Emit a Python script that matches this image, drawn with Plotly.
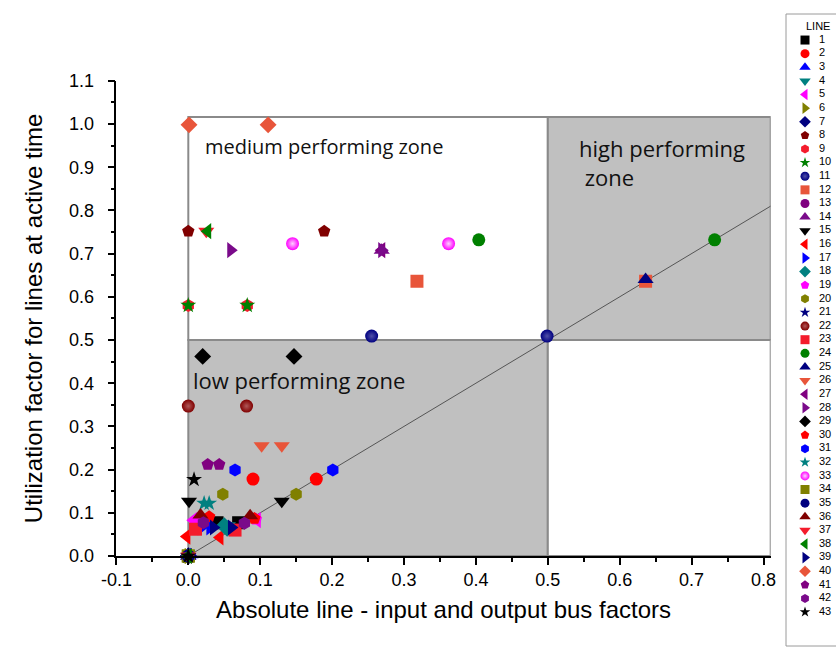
import plotly.graph_objects as go

# ---------------- data ----------------
line_labels = [str(i) for i in range(1, 44)]

x_vals = [
    [0.040, 0.070],   # 1
    [0.090, 0.178],   # 2
    [0.000, 0.003],   # 3
    [0.055, 0.060],   # 4
    [0.007, 0.096],   # 5
    [0.000, 0.000],   # 6
    [0.000, 0.000],   # 7
    [0.000, 0.189],   # 8
    [0.000, 0.082],   # 9
    [0.000, 0.082],   # 10
    [0.255, 0.499],   # 11
    [0.318, 0.636],   # 12
    [0.000, 0.000],   # 13
    [0.269, 0.000],   # 14
    [0.001, 0.130],   # 15
    [-0.002, 0.044],  # 16
    [0.018, 0.030],   # 17
    [0.050, 0.054],   # 18
    [0.012, 0.094],   # 19
    [0.048, 0.150],   # 20
    [0.000, 0.000],   # 21
    [0.000, 0.081],   # 22
    [0.010, 0.065],   # 23
    [0.404, 0.732],   # 24
    [0.636, 0.000],   # 25
    [0.102, 0.130],   # 26
    [0.269, 0.000],   # 27
    [0.059, 0.269],   # 28
    [0.020, 0.147],   # 29
    [0.029, 0.092],   # 30
    [0.065, 0.201],   # 31
    [0.022, 0.029],   # 32
    [0.145, 0.362],   # 33
    [0.000, 0.000],   # 34
    [0.000, 0.000],   # 35
    [0.017, 0.086],   # 36
    [0.025, 0.000],   # 37
    [0.027, 0.000],   # 38
    [0.035, 0.060],   # 39
    [0.001, 0.111],   # 40
    [0.027, 0.043],   # 41
    [0.021, 0.078],   # 42
    [0.008, 0.000],   # 43
]

y_vals = [
    [0.077, 0.077],   # 1
    [0.178, 0.178],   # 2
    [0.000, 0.003],   # 3
    [0.070, 0.066],   # 4
    [0.083, 0.083],   # 5
    [0.000, 0.000],   # 6
    [0.000, 0.000],   # 7
    [0.752, 0.752],   # 8
    [0.580, 0.580],   # 9
    [0.580, 0.580],   # 10
    [0.509, 0.509],   # 11
    [0.636, 0.636],   # 12
    [0.000, 0.000],   # 13
    [0.708, 0.000],   # 14
    [0.127, 0.127],   # 15
    [0.045, 0.043],   # 16
    [0.066, 0.066],   # 17
    [0.070, 0.064],   # 18
    [0.085, 0.085],   # 19
    [0.143, 0.143],   # 20
    [0.000, 0.000],   # 21
    [0.347, 0.347],   # 22
    [0.062, 0.060],   # 23
    [0.732, 0.732],   # 24
    [0.640, 0.000],   # 25
    [0.255, 0.255],   # 26
    [0.708, 0.000],   # 27
    [0.708, 0.708],   # 28
    [0.462, 0.462],   # 29
    [0.091, 0.087],   # 30
    [0.199, 0.199],   # 31
    [0.122, 0.122],   # 32
    [0.723, 0.723],   # 33
    [0.000, 0.000],   # 34
    [0.000, 0.000],   # 35
    [0.095, 0.093],   # 36
    [0.752, 0.000],   # 37
    [0.752, 0.000],   # 38
    [0.066, 0.066],   # 39
    [0.998, 0.998],   # 40
    [0.212, 0.212],   # 41
    [0.077, 0.076],   # 42
    [0.177, 0.000],   # 43
]

x_ticks = [-0.1, 0.0, 0.1, 0.2, 0.3, 0.4, 0.5, 0.6, 0.7, 0.8]
y_ticks = [0.0, 0.1, 0.2, 0.3, 0.4, 0.5, 0.6, 0.7, 0.8, 0.9, 1.0, 1.1]

zone_split_x = 0.5
zone_split_y = 0.5
x_max = 0.81
y_zone_top = 1.016

# ---------------- styles ----------------
color_cycle = ["#000000", "#ff0000", "#0000ff", "#008080", "#ff00ff", "#808000",
               "#000080", "#800000", "#f41c2c", "#008000", "#000080", "#e8553a",
               "#800080", "#7a0a8a"]
symbol_cycle = ["square", "circle", "triangle-up", "triangle-down", "triangle-left",
                "triangle-right", "diamond", "pentagon", "hexagon", "star", "ball"]
ball_highlight = {"#ff00ff": "#ffd0ff", "#000080": "#5050a8", "#800000": "#b05858"}

W, H = 836, 649
px_left, px_right, px_top, px_bottom = 116.4, 770.7, 80.8, 556.0

fig = go.Figure()


def marker_for(i, size):
    sym = symbol_cycle[i % len(symbol_cycle)]
    col = color_cycle[i % len(color_cycle)]
    m = dict(color=col, size=size, line=dict(width=0))
    if sym == "ball":
        m["symbol"] = "circle"
        m["gradient"] = dict(type="radial", color=ball_highlight.get(col, "#cccccc"))
    else:
        m["symbol"] = sym
        if sym.startswith("triangle"):
            m["size"] = size + 1
        if sym == "star":
            m["size"] = size - 1
    return m


for i, lab in enumerate(line_labels):
    fig.add_trace(go.Scatter(
        x=x_vals[i], y=y_vals[i], mode="markers",
        marker=marker_for(i, 13), name=lab, showlegend=False,
        cliponaxis=False, xaxis="x", yaxis="y",
        hovertemplate="LINE " + lab + "<br>x=%{x}<br>y=%{y}<extra></extra>"))

# custom legend (drawn on a hidden axis pair)
for i, lab in enumerate(line_labels):
    fig.add_trace(go.Scatter(
        x=[0.38], y=[i + 1], mode="markers", marker=marker_for(i, 9),
        showlegend=False, hoverinfo="skip", xaxis="x2", yaxis="y2", cliponaxis=False))
fig.add_trace(go.Scatter(
    x=[0.66] * len(line_labels), y=list(range(1, len(line_labels) + 1)),
    mode="text", text=line_labels, textposition="middle right",
    textfont=dict(family="Liberation Sans, Arial", size=11, color="#000"),
    showlegend=False, hoverinfo="skip", xaxis="x2", yaxis="y2", cliponaxis=False))

zone_line = dict(color="#8a8a8a", width=2)
shapes = [
    dict(type="rect", xref="x", yref="y", x0=0, x1=zone_split_x, y0=zone_split_y, y1=y_zone_top,
         fillcolor="white", line=zone_line, layer="below"),
    dict(type="rect", xref="x", yref="y", x0=zone_split_x, x1=x_max, y0=zone_split_y, y1=y_zone_top,
         fillcolor="#c0c0c0", line=zone_line, layer="below"),
    dict(type="rect", xref="x", yref="y", x0=0, x1=zone_split_x, y0=0, y1=zone_split_y,
         fillcolor="#c0c0c0", line=zone_line, layer="below"),
    dict(type="rect", xref="x", yref="y", x0=zone_split_x, x1=x_max, y0=0, y1=zone_split_y,
         fillcolor="white", line=zone_line, layer="below"),
    dict(type="line", xref="x", yref="y", x0=0, y0=0, x1=x_max, y1=x_max,
         line=dict(color="#555555", width=1), layer="below"),
    # legend frame
    dict(type="rect", xref="paper", yref="paper", x0=786 / W, x1=1.05, y0=1 - 646 / H, y1=1 - 14 / H,
         fillcolor="rgba(0,0,0,0)", line=dict(color="#9a9a9a", width=1)),
]

zone_font_m = dict(family="Open Sans, Noto Sans", size=20, color="#111")
zone_font_l = dict(family="Open Sans, Noto Sans", size=22, color="#111")
annotations = [
    dict(text="medium performing zone", xref="x", yref="y", x=0.02, y=0.947,
         xanchor="left", yanchor="middle", showarrow=False, font=zone_font_m),
    dict(text="high performing<br> zone", xref="x", yref="y", x=0.54, y=0.912,
         xanchor="left", yanchor="middle", showarrow=False, font=zone_font_l, align="left"),
    dict(text="low performing zone", xref="x", yref="y", x=0.004, y=0.408,
         xanchor="left", yanchor="middle", showarrow=False, font=zone_font_l),
    dict(text="LINE", xref="paper", yref="paper", x=818 / W, y=1 - 26 / H,
         xanchor="center", yanchor="middle", showarrow=False,
         font=dict(family="Liberation Sans, Arial", size=11, color="#000")),
]

axis_font = dict(family="Liberation Sans, Arial", size=18, color="#000")
title_font = dict(family="Liberation Sans, Arial", size=24, color="#000")

fig.update_layout(
    width=W, height=H,
    margin=dict(l=0, r=0, t=0, b=0, autoexpand=False),
    paper_bgcolor="white", plot_bgcolor="white",
    shapes=shapes, annotations=annotations,
    xaxis=dict(domain=[px_left / W, px_right / W], range=[-0.1, x_max], automargin=False,
               tickvals=x_ticks, ticktext=[f"{v:.1f}" for v in x_ticks],
               showgrid=False, zeroline=False, showline=True, linecolor="#000", linewidth=1.5,
               ticks="outside", ticklen=7, tickwidth=1.5, tickcolor="#000",
               minor=dict(ticks="outside", ticklen=4, tickwidth=1.5, tickcolor="#000",
                          dtick=0.05, tick0=0, showgrid=False),
               tickfont=axis_font, anchor="y",
               title=dict(text="Absolute line - input and output bus factors", font=title_font,
                          standoff=12)),
    yaxis=dict(domain=[1 - px_bottom / H, 1 - px_top / H], range=[0, 1.1], automargin=False,
               tickvals=y_ticks, ticktext=[f"{v:.1f}" for v in y_ticks],
               showgrid=False, zeroline=False, showline=True, linecolor="#000", linewidth=1.5,
               ticks="outside", ticklen=7, tickwidth=1.5, tickcolor="#000",
               ticklabelstandoff=10,
               minor=dict(ticks="outside", ticklen=4, tickwidth=1.5, tickcolor="#000",
                          dtick=0.05, tick0=0, showgrid=False),
               tickfont=axis_font, anchor="x",
               title=dict(text="Utilization factor for lines at active time", font=title_font,
                          standoff=20)),
    xaxis2=dict(domain=[786 / W, 1.0], range=[0, 1], visible=False, anchor="y2", automargin=False),
    yaxis2=dict(domain=[0, 1], range=[45.71, -1.94], visible=False, anchor="x2", automargin=False),
)

fig.write_html("out.html")
